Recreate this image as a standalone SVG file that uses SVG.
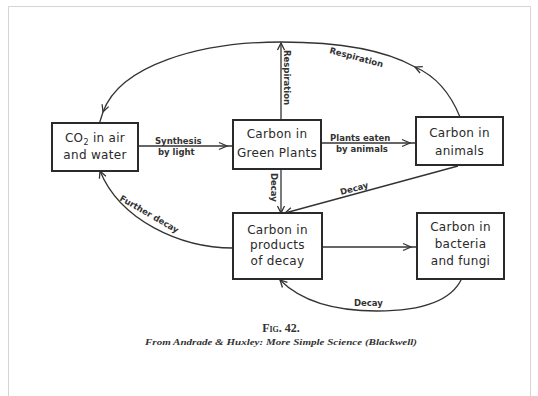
<svg xmlns="http://www.w3.org/2000/svg" width="538" height="396" viewBox="0 0 538 396">
<style>
.box{fill:#fff;stroke:#2a2a2a;stroke-width:2}
.bt{font-family:"DejaVu Sans",sans-serif;font-size:12px;fill:#2a2a2a;text-anchor:middle;letter-spacing:0.3px}
.el{font-family:"DejaVu Sans",sans-serif;font-size:8.5px;font-weight:bold;fill:#333}
.ln{fill:none;stroke:#333;stroke-width:1.3}
.cap{font-family:"Liberation Serif",serif;fill:#333;text-anchor:middle}
</style>
<defs>
<marker id="ah" viewBox="0 0 16 10" markerWidth="16" markerHeight="10" refX="15" refY="5" orient="auto" markerUnits="userSpaceOnUse">
<path d="M1,1.5 L9,5 L1,8.5" fill="none" stroke="#333" stroke-width="1.3"/>
</marker>
<marker id="am" viewBox="0 0 10 10" markerWidth="10" markerHeight="10" refX="8" refY="5" orient="auto" markerUnits="userSpaceOnUse">
<path d="M1,1.5 L8,5 L1,8.5" fill="none" stroke="#333" stroke-width="1.3"/>
</marker>
</defs>
<rect width="538" height="396" fill="#fff"/>
<path d="M8.5,396 V6.5 H530.5 V396" fill="none" stroke="#d4d4d4" stroke-width="1"/>

<g id="connectors">
<line class="ln" x1="138" y1="146" x2="233" y2="146" marker-end="url(#ah)"/>
<line class="ln" x1="321" y1="143" x2="416" y2="143" marker-end="url(#ah)"/>
<line class="ln" x1="322" y1="247" x2="417" y2="247" marker-end="url(#ah)"/>
<line class="ln" x1="281" y1="120" x2="281" y2="43" marker-end="url(#am)"/>
<line class="ln" x1="281" y1="169" x2="281" y2="213" marker-end="url(#am)"/>
<line class="ln" x1="458" y1="166" x2="285" y2="213" marker-end="url(#am)"/>
<path class="ln" d="M460,117 Q445,80 415,67" marker-end="url(#am)"/>
<path class="ln" d="M415,67 C385,50 340,42 281,42 C200,42 120,65 103,112" marker-end="url(#am)"/>
<path class="ln" d="M103,112 L99.5,123"/>
<path class="ln" d="M233,248 C180,248 120,220 100,171" marker-end="url(#am)"/>
<path class="ln" d="M462,278 C450,305 410,311 377,311 C330,311 300,300 280,280" marker-end="url(#am)"/>
<text class="el" x="155" y="144">Synthesis</text>
<text class="el" x="158" y="155">by light</text>
<text class="el" x="330" y="141">Plants eaten</text>
<text class="el" x="336" y="152">by animals</text>
<text class="el" transform="translate(284,50) rotate(90)">Respiration</text>
<text class="el" transform="translate(329,53) rotate(15)">Respiration</text>
<text class="el" transform="translate(271,173) rotate(90)">Decay</text>
<text class="el" transform="translate(341,195) rotate(-15)">Decay</text>
<text class="el" transform="translate(119,200) rotate(30)">Further decay</text>
<text class="el" x="354" y="306">Decay</text>
</g>

<g id="co2">
<rect class="box" x="52" y="123" width="86" height="48"/>
<text class="bt" x="95" y="142">CO<tspan font-size="8" dy="3">2</tspan><tspan dy="-3"> in air</tspan></text>
<text class="bt" x="95" y="159">and water</text>
</g>
<g id="plants">
<rect class="box" x="233" y="120" width="88" height="49"/>
<text class="bt" x="277" y="138">Carbon in</text>
<text class="bt" x="277" y="157">Green Plants</text>
</g>
<g id="animals">
<rect class="box" x="416" y="117" width="87" height="48"/>
<text class="bt" x="459.5" y="137">Carbon in</text>
<text class="bt" x="459.5" y="155">animals</text>
</g>
<g id="products">
<rect class="box" x="233" y="213" width="89" height="66"/>
<text class="bt" x="277.5" y="234">Carbon in</text>
<text class="bt" x="277.5" y="249">products</text>
<text class="bt" x="277.5" y="265">of decay</text>
</g>
<g id="bacteria">
<rect class="box" x="417" y="213" width="87" height="66"/>
<text class="bt" x="460.5" y="231">Carbon in</text>
<text class="bt" x="460.5" y="248">bacteria</text>
<text class="bt" x="460.5" y="265">and fungi</text>
</g>

<g id="caption">
<text class="cap" x="281" y="332" font-size="12" font-variant="small-caps" font-weight="bold">Fig. 42.</text>
<text class="cap" x="281" y="345" font-size="8.5" font-style="italic" font-weight="bold" textLength="272" lengthAdjust="spacingAndGlyphs">From Andrade &amp; Huxley: More Simple Science (Blackwell)</text>
</g>
</svg>
